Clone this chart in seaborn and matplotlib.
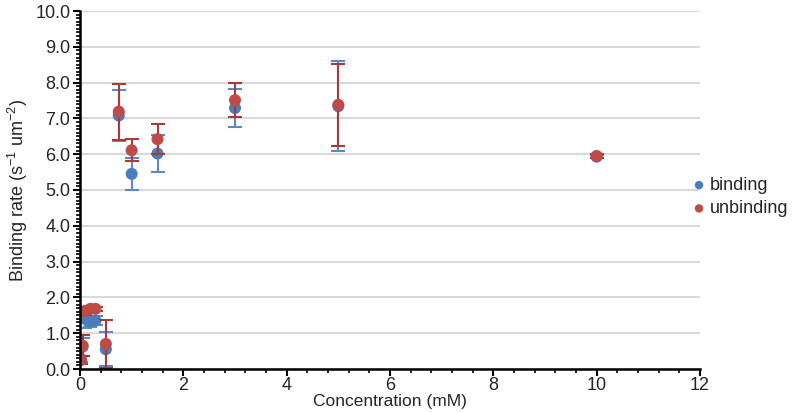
import matplotlib
matplotlib.use("Agg")

import numpy as np
import pandas as pd
import matplotlib.pyplot as plt
from matplotlib.ticker import MultipleLocator, FormatStrFormatter
import seaborn as sns

# data
conc = [0.02, 0.05, 0.1, 0.2, 0.3, 0.5, 0.75, 1.0, 1.5, 3.0, 5.0, 10.0]
binding = [0.28, 0.62, 1.40, 1.32, 1.35, 0.55, 7.08, 5.45, 6.02, 7.29, 7.34, 5.93]
binding_err = [0.08, 0.25, 0.25, 0.15, 0.12, 0.48, 0.70, 0.45, 0.52, 0.54, 1.26, 0.05]
unbinding = [0.25, 0.65, 1.62, 1.68, 1.68, 0.70, 7.19, 6.11, 6.42, 7.51, 7.38, 5.95]
unbinding_err = [0.10, 0.30, 0.10, 0.08, 0.06, 0.68, 0.78, 0.31, 0.41, 0.47, 1.15, 0.05]

BLUE = "#4A7EBB"
RED = "#BE4B48"
BLUE_ERR = "#5B8ACB"
RED_ERR = "#A83A37"

df = pd.DataFrame({
    "Concentration": conc * 2,
    "rate": binding + unbinding,
    "series": ["binding"] * len(conc) + ["unbinding"] * len(conc),
})

sns.set_style("white")
plt.rcParams["font.family"] = ["Liberation Sans", "DejaVu Sans"]
plt.rcParams["mathtext.default"] = "regular"

fig = plt.figure(figsize=(7.97, 4.12), dpi=100)
ax = fig.add_axes([80 / 797, (412 - 369) / 412, (700 - 80) / 797, (369 - 11) / 412])

# error bars under the markers
ax.errorbar(conc, binding, yerr=binding_err, fmt="none", ecolor=BLUE_ERR,
            elinewidth=1.5, capsize=5, capthick=1.5, zorder=2)
sns.scatterplot(data=df[df.series == "binding"], x="Concentration", y="rate",
                color=BLUE, s=75, edgecolor="none", ax=ax, zorder=3,
                label="binding", legend=False)
ax.errorbar(conc, unbinding, yerr=unbinding_err, fmt="none", ecolor=RED_ERR,
            elinewidth=1.5, capsize=5, capthick=1.5, zorder=4)
sns.scatterplot(data=df[df.series == "unbinding"], x="Concentration", y="rate",
                color=RED, s=75, edgecolor="none", ax=ax, zorder=5,
                label="unbinding", legend=False)

ax.set_xlim(0, 12)
ax.set_ylim(0, 10)
ax.xaxis.set_major_locator(MultipleLocator(2))
ax.xaxis.set_minor_locator(MultipleLocator(0.4))
ax.yaxis.set_major_locator(MultipleLocator(1))
ax.yaxis.set_minor_locator(MultipleLocator(0.1))
ax.yaxis.set_major_formatter(FormatStrFormatter("%.1f"))

ax.grid(axis="y", color="#D9D9D9", linewidth=1.5)
ax.set_axisbelow(True)
for side in ["top", "right"]:
    ax.spines[side].set_visible(False)
for side in ["left", "bottom"]:
    ax.spines[side].set_color("black")
    ax.spines[side].set_linewidth(1.8)
    ax.spines[side].set_zorder(6)

ax.tick_params(axis="both", which="major", direction="out", length=5, width=1.5,
               labelsize=13, color="black", left=True, bottom=True, pad=2)
ax.tick_params(axis="x", which="major", pad=1)
ax.tick_params(axis="both", which="minor", direction="out", length=3, width=1.2,
               color="black", left=True, bottom=True)

ax.set_xlabel("Concentration (mM)", fontsize=12.5, labelpad=0)
ax.set_ylabel("Binding rate (s$^{-1}$ um$^{-2}$)", fontsize=13, labelpad=4)

handles, labels = ax.get_legend_handles_labels()
fig.legend(handles, labels, loc="center left", bbox_to_anchor=(690 / 797, 1 - 197 / 412),
           frameon=False, fontsize=13, handletextpad=0.1, handlelength=1.0,
           labelspacing=0.35, markerscale=0.7, borderaxespad=0, borderpad=0)

fig.savefig("out.png", dpi=100)
